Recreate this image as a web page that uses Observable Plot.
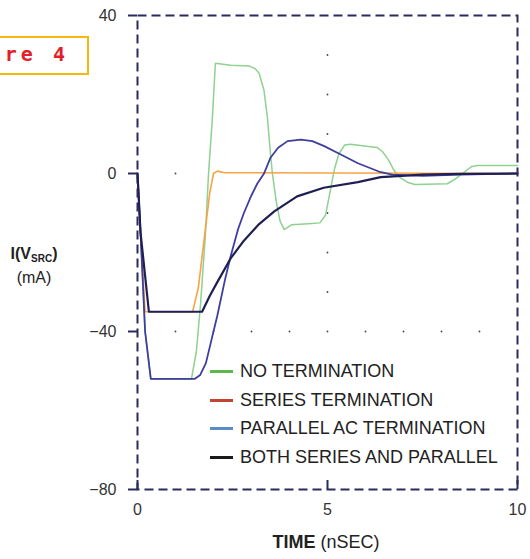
<!DOCTYPE html>
<html><head><meta charset="utf-8">
<script src="https://cdn.jsdelivr.net/npm/d3@7"></script>
<script src="https://cdn.jsdelivr.net/npm/@observablehq/plot@0.6"></script>
<style>
body{margin:0;background:#fff;}
#wrap{position:relative;width:530px;height:559px;overflow:hidden;font-family:"Liberation Sans",Arial,sans-serif;background:#fff;}
#chart{position:absolute;left:0;top:0;}
.fig{position:absolute;left:-10px;top:36px;width:95px;height:35px;border:2px solid #f5b80f;background:#fff;box-sizing:content-box;}
.fig span{position:absolute;right:18px;top:4px;font-family:"DejaVu Sans Mono",monospace;font-weight:bold;font-size:20px;letter-spacing:4px;color:#e3202a;white-space:pre;}
.ylab{position:absolute;left:8px;top:244px;width:52px;text-align:center;color:#222;font-size:16px;line-height:19px;}
.ylab b sub{font-size:10px;vertical-align:-3px;}
.xlab{position:absolute;left:226px;top:532px;width:200px;text-align:center;color:#222;font-size:18px;}
.legend{position:absolute;left:210px;top:357px;font-size:18px;color:#222;}
.legend div{height:28.7px;display:flex;align-items:center;white-space:nowrap;}
.legend i{display:inline-block;width:23px;height:3px;margin-right:7px;}
</style></head><body>
<div id="wrap"><div id="chart"></div></div>
<script>
const xTicks = [0, 5, 10];
const yTicks = [40, 0, -40, -80];
const seriesNames = ["NO TERMINATION", "SERIES TERMINATION", "PARALLEL AC TERMINATION", "BOTH SERIES AND PARALLEL"];
const legendColors = ["#5cb84a", "#c4452f", "#5b8cc8", "#1a1a1a"];
const lineColors = ["#8fd18f", "#f6a446", "#3e3e9e", "#1f1f55"];

const noTermT = [0,0.08,0.2,0.35,1.42,1.55,1.66,1.79,1.87,1.97,2.05,2.45,2.95,3.1,3.2,3.33,3.42,3.49,3.55,3.65,3.75,3.86,4.05,4.5,4.8,4.95,5.08,5.18,5.3,5.45,5.6,6.3,6.45,6.6,6.75,6.9,7.1,7.3,8.15,8.35,8.55,8.8,8.95,10];
const noTermI = [0,-15,-40,-52,-52,-45,-33,-15,0,14,27.9,27.4,27.2,26.5,25.4,21,14,6,0,-7,-12,-14.2,-13,-12.7,-12.5,-10.5,-4,1,5,7.2,7.4,6.6,5.5,3.5,0.8,-1,-2.2,-2.8,-2.6,-1.5,0,1.8,2,2];

const seriesT = [0,0.08,0.2,1.45,1.6,1.75,1.9,2.0,2.1,2.3,10];
const seriesI = [0,-15,-35,-35,-29,-17,-5,0,0.6,0.2,0];

const parallelT = [0,0.08,0.2,0.35,1.5,1.65,1.8,1.95,2.1,2.3,2.45,2.65,2.8,3.0,3.15,3.33,3.5,3.7,3.95,4.3,4.6,4.9,5.35,5.8,6.35,6.7,7.5,8.5,10];
const parallelI = [0,-15,-40,-52,-52,-51,-48,-42,-36,-27,-21,-14,-10,-5.5,-2.6,0,4,6.5,8.2,8.6,8.2,7,4.8,2.6,0.5,-0.3,-0.6,-0.3,0];

const bothT = [0,0.08,0.3,1.7,1.9,2.1,2.45,2.8,3.2,3.6,4.2,4.9,5.8,6.4,7.5,8.5,10];
const bothI = [0,-15,-35,-35,-31,-27.5,-21.5,-17,-12.8,-9.6,-5.8,-3.6,-2.2,-0.9,-0.3,-0.1,0];

const gridDotX = [5,5,5,5,5,5,1,2,3,4,5,6,7,8,9,1];
const gridDotY = [30,20,10,-10,-20,-30,-40,-40,-40,-40,-40,-40,-40,-40,-40,0];

const toRows = (T, I) => T.map((t, i) => ({t, i: I[i]}));
const series = [toRows(noTermT, noTermI), toRows(seriesT, seriesI), toRows(parallelT, parallelI), toRows(bothT, bothI)];
const widths = [1.5, 1.6, 1.8, 2.2];
const grid = gridDotX.map((x, k) => ({x, y: gridDotY[k]}));

const W = 530, H = 559, mT = 15, mB = 70, mL = 137, mR = 13;
const frameColor = "#2b2b5e";

const plot = Plot.plot({
  width: W, height: H, marginTop: mT, marginBottom: mB, marginLeft: mL, marginRight: mR,
  x: {domain: [0, 10], label: null},
  y: {domain: [-80, 40], label: null},
  style: {fontFamily: "Liberation Sans, Arial, sans-serif", fontSize: "16px", color: "#333", background: "#fff"},
  marks: [
    Plot.frame({stroke: frameColor, strokeWidth: 2, strokeDasharray: "9,5"}),
    Plot.dot(grid, {x: "x", y: "y", r: 0.9, fill: "#444", stroke: null}),
    ...series.map((d, k) => Plot.line(d, {x: "t", y: "i", stroke: lineColors[k], strokeWidth: widths[k], curve: "linear"})),
    Plot.ruleX(xTicks, {x: d => d, insetTop: H - mT - mB - 9, stroke: frameColor, strokeWidth: 2}),
    Plot.axisX({ticks: xTicks, tickSize: 0, tickPadding: 14, tickFormat: d => String(d), fill: "#333"}),
    Plot.axisY({ticks: yTicks, tickSize: 9, tickPadding: 12, stroke: frameColor, strokeWidth: 2, fill: "#333",
      tickFormat: d => d < 0 ? "\u2212" + Math.abs(d) : String(d)})
  ]
});
document.getElementById("chart").appendChild(plot);

const wrap = document.getElementById("wrap");
const fig = document.createElement("div");
fig.className = "fig";
fig.innerHTML = "<span>re 4</span>";
wrap.appendChild(fig);

const ylab = document.createElement("div");
ylab.className = "ylab";
ylab.innerHTML = "<b>I(V<sub>SRC</sub>)</b><br>(mA)";
wrap.appendChild(ylab);

const xlab = document.createElement("div");
xlab.className = "xlab";
xlab.innerHTML = "<b>TIME</b> (nSEC)";
wrap.appendChild(xlab);

const leg = document.createElement("div");
leg.className = "legend";
seriesNames.forEach((n, k) => {
  const row = document.createElement("div");
  const sw = document.createElement("i");
  sw.style.background = legendColors[k];
  row.appendChild(sw);
  row.appendChild(document.createTextNode(n));
  leg.appendChild(row);
});
wrap.appendChild(leg);
</script>
</body></html>
